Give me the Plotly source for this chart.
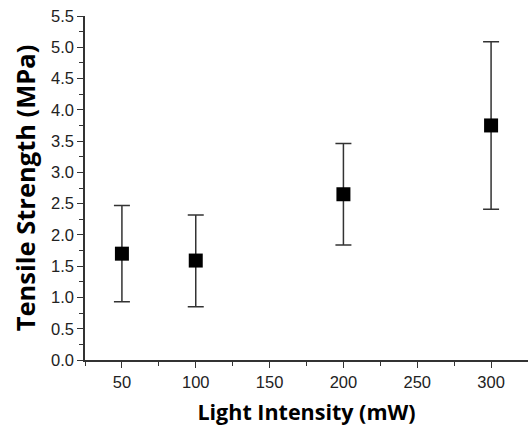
import plotly.graph_objects as go

intensity = [50, 100, 200, 300]
strength = [1.70, 1.59, 2.65, 3.75]
err_plus = [0.77, 0.73, 0.81, 1.34]
err_minus = [0.77, 0.74, 0.81, 1.34]

fig = go.Figure()
fig.add_trace(go.Scatter(
    x=intensity, y=strength, mode="markers",
    marker=dict(symbol="square", size=14, color="black"),
    error_y=dict(type="data", symmetric=False, array=err_plus, arrayminus=err_minus,
                 color="#333333", thickness=1.5, width=8),
    showlegend=False,
))

tickfont = dict(family="Liberation Sans, Arial", size=16.5, color="#222222")
xtitlefont = dict(family="Open Sans, Noto Sans", size=21.5, color="black", weight="bold")
ytitlefont = dict(family="Open Sans, Noto Sans", size=25.5, color="black", weight="bold")

fig.update_layout(
    width=528, height=426,
    margin=dict(l=85, r=0, t=15.5, b=66),
    paper_bgcolor="white", plot_bgcolor="white",
    xaxis=dict(
        range=[25, 325], tick0=50, dtick=50, showline=True, linecolor="#333333", linewidth=1.5,
        ticks="outside", ticklen=6, tickwidth=1.2, tickcolor="#333333",
        minor=dict(dtick=25, tick0=25, ticks="outside", ticklen=4, tickcolor="#333333", tickwidth=1),
        showgrid=False, zeroline=False, tickfont=tickfont, automargin=False,
        ticklabeloverflow="allow",
        title=dict(text="Light Intensity (mW)", font=xtitlefont, standoff=16),
    ),
    yaxis=dict(
        range=[0, 5.5], tick0=0, dtick=0.5, tickformat=".1f", showline=True, linecolor="#333333", linewidth=1.5,
        ticks="outside", ticklen=6, tickwidth=1.2, tickcolor="#333333",
        minor=dict(dtick=0.25, ticks="outside", ticklen=4, tickcolor="#333333", tickwidth=1),
        showgrid=False, zeroline=False, tickfont=tickfont, automargin=False,
        ticklabeloverflow="allow",
        title=dict(text="Tensile Strength (MPa)", font=ytitlefont, standoff=8),
    ),
)

fig.write_html(
    "out.html",
    config={"displayModeBar": False},
    post_script="document.body.style.margin='0';document.body.style.overflow='hidden';",
)
